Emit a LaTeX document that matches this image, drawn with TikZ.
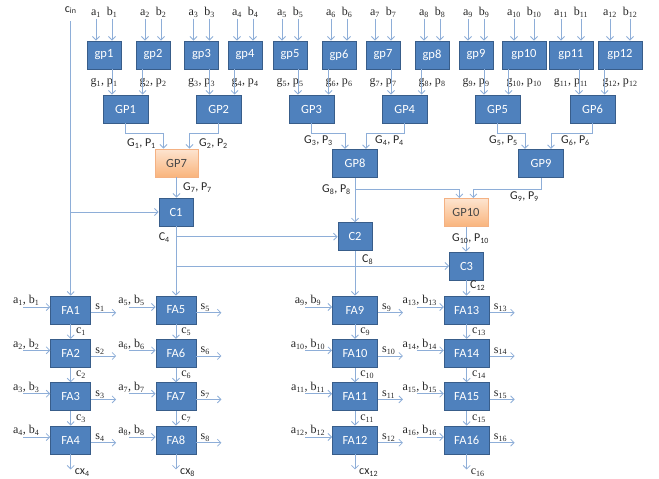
\documentclass[tikz,border=0pt]{standalone}
\usepackage{fontspec}
\setmainfont{Liberation Serif}
\setsansfont{Carlito}
\usetikzlibrary{arrows.meta}

\definecolor{blkfill}{HTML}{4F81BD}
\definecolor{blkline}{HTML}{385D8A}
\definecolor{orgtop}{HTML}{FDE4D0}
\definecolor{orgbot}{HTML}{F9B47C}
\definecolor{orgline}{HTML}{F4B183}
\definecolor{wirecol}{HTML}{8EAED8}
\definecolor{lblcol}{HTML}{262626}
\newcommand{\sbs}[1]{\textsubscript{#1}}

\tikzset{
	blk/.style={draw=blkline, fill=blkfill, text=white, font=\sffamily\fontsize{12.5}{14}\selectfont, minimum height=28pt, inner sep=0pt, line width=0.9pt},
	orgblk/.style={blk, top color=orgtop, bottom color=orgbot, draw=orgline, text=lblcol!85},
	wire/.style={draw=wirecol, line width=0.8pt},
	arr/.style={wire, -{Straight Barb[length=3.5pt,width=7pt]}},
	lbl/.style={text=lblcol, font=\fontsize{12}{14}\selectfont, inner sep=1pt},
	slbl/.style={lbl, font=\sffamily\fontsize{12}{14}\selectfont},
}

\begin{document}
\begin{tikzpicture}[x=1pt,y=-1pt]
	\useasboundingbox (0,0) rectangle (659,479);
	% first level: bitwise generate/propagate
	\foreach \i/\x/\w/\d in {1/104/34pt/8pt,2/153/34pt/8pt,3/201.5/34pt/8pt,4/245/34pt/8pt,5/290/34pt/8pt,6/339/34pt/8pt,7/383/34pt/8pt,8/432/34pt/8pt,9/476/34pt/8pt,10/524/44pt/10pt,11/571/44pt/10pt,12/620/44pt/10pt}
	{
		\node[blk, minimum width=\w] (gp\i) at (\x,55) {gp\i};
		\draw[arr] ([xshift=-\d,yshift=22pt]gp\i.north) coordinate (ta\i) -- ([xshift=-\d]gp\i.north);
		\draw[arr] ([xshift=\d,yshift=22pt]gp\i.north) coordinate (tb\i) -- ([xshift=\d]gp\i.north);
		\node[lbl, above] (la\i) at (ta\i) {a\sbs{\i}};
		\node[lbl, above] (lb\i) at (tb\i) {b\sbs{\i}};
		\node[lbl] (lg\i) at ([yshift=-13pt]gp\i.south) {g\sbs{\i}, p\sbs{\i}};
	}
	% second level
	\node[blk, minimum width=45pt] (GP1) at (125.5,109) {GP1};
	\node[blk, minimum width=45pt] (GP2) at (218.7,109) {GP2};
	\node[blk, minimum width=45pt] (GP3) at (311.5,109) {GP3};
	\node[blk, minimum width=45pt] (GP4) at (404.7,109) {GP4};
	\node[blk, minimum width=45pt] (GP5) at (497.5,109) {GP5};
	\node[blk, minimum width=45pt] (GP6) at (592.5,109) {GP6};
	\node[orgblk, minimum width=43pt] (GP7) at (176.5,163) {GP7};
	\node[blk, minimum width=45pt] (GP8) at (355,163.3) {GP8};
	\node[blk, minimum width=45pt] (GP9) at (541,163.3) {GP9};
	\node[orgblk, minimum width=44pt] (GP10) at (466,212.5) {GP10};
	% carry blocks
	\node[blk, minimum width=34pt] (C1) at (176,212) {C1};
	\node[blk, minimum width=34pt] (C2) at (355,236.7) {C2};
	\node[blk, minimum width=34pt] (C3) at (466.5,266) {C3};
	% gp -> GP
	\foreach \i/\j in {1/1,3/2,5/3,7/4,9/5,11/6}
	{
		\path ([xshift=8pt]gp\i.south) coordinate (d\i);
		\draw[arr] (d\i) -- (d\i |- GP\j.north);
	}
	\foreach \i/\j in {2/1,4/2,6/3,8/4,10/5,12/6}
	{
		\path ([xshift=7pt]gp\i.south west) coordinate (d\i);
		\draw[arr] (d\i) -- (d\i |- GP\j.north);
	}
	% GP -> GP
	\draw[arr] (GP1.south) -- ++(0,10) -| ([xshift=-13pt]GP7.north);
	\draw[arr] (GP2.south) -- ++(0,10) -| ([xshift=13pt]GP7.north);
	\draw[arr] (GP3.south) -- ++(0,9.5) -| ([xshift=-10pt]GP8.north);
	\draw[arr] (GP4.south) -- ++(0,9.5) -| ([xshift=11pt]GP8.north);
	\draw[arr] (GP5.south) -- ++(0,9.5) -| ([xshift=-16pt]GP9.north);
	\draw[arr] (GP6.south) -- ++(0,9.5) -| ([xshift=10pt]GP9.north);
	\draw[arr] (GP8.south) -- ++(0,11.2) -| ([xshift=-6.7pt]GP10.north);
	\draw[arr] (GP9.south) -- ++(0,11.2) -| ([xshift=7.3pt]GP10.north);
	\draw[arr] (GP7.south) -- (GP7.south |- C1.north);
	\draw[arr] (GP8.south) -- (C2.north);
	\draw[arr] (GP10.south) -- (GP10.south |- C3.north);
	\node[slbl, anchor=east] (lG1) at (157,144) {G\sbs{1}, P\sbs{1}};
	\node[slbl, anchor=west] (lG2) at (198,144) {G\sbs{2}, P\sbs{2}};
	\node[slbl, anchor=east] (lG3) at (334,141) {G\sbs{3}, P\sbs{3}};
	\node[slbl, anchor=west] (lG4) at (374,141) {G\sbs{4}, P\sbs{4}};
	\node[slbl, anchor=east] (lG5) at (519,141) {G\sbs{5}, P\sbs{5}};
	\node[slbl, anchor=west] (lG6) at (560,141) {G\sbs{6}, P\sbs{6}};
	\node[slbl, anchor=west] (lG7) at (182,188) {G\sbs{7}, P\sbs{7}};
	\node[slbl, anchor=east] (lG8) at (352,190) {G\sbs{8}, P\sbs{8}};
	\node[slbl, anchor=north east] (lG9) at (540,190.5) {G\sbs{9}, P\sbs{9}};
	\node[slbl, anchor=west] (lG10) at (451,239) {G\sbs{10}, P\sbs{10}};
	% carry in
	\node[slbl] (cin) at (70.7,10) {c\sbs{in}};
	\coordinate (cintop) at (70.7,21);
	% full adders
	\foreach \c/\x/\w in {0/70.7/40pt,1/176/40pt,2/355/45pt,3/466.7/45pt}
	{
		\foreach \r/\y in {1/310,2/353.3,3/396.7,4/440}
		{
			\pgfmathtruncatemacro\n{4*\c+\r}
			\node[blk, minimum width=\w] (FA\n) at (\x,\y) {FA\n};
			\draw[arr] ([xshift=-27pt,yshift=3pt]FA\n.west) coordinate (in\n) -- ([yshift=3pt]FA\n.west);
			\node[lbl, above] (lab\n) at ([xshift=3pt]in\n) {a\sbs{\n}, b\sbs{\n}};
			\draw[arr] ([yshift=-2.7pt]FA\n.east) coordinate (out\n) -- ++(25,0);
			\node[lbl, anchor=south west] (ls\n) at ([xshift=3pt]out\n) {s\sbs{\n}};
		}
	}
	\foreach \a/\b in {1/2,2/3,3/4,5/6,6/7,7/8,9/10,10/11,11/12,13/14,14/15,15/16}
		\draw[arr] (FA\a.south) -- (FA\b.north) node[lbl, midway, right, xshift=4pt] (lc\a) {c\sbs{\a}};
	% carry wiring
	\draw[arr] (cintop) -- (cintop |- FA1.north);
	\draw[arr] (cintop |- C1.west) -- (C1.west);
	\draw[arr] (C1.south) -- (C1.south |- FA5.north);
	\draw[arr] (C1.south |- C2.west) -- (C2.west);
	\draw[arr] (C1.south |- C3.west) -- (C3.west);
	\draw[arr] (C2.south) -- (C2.south |- FA9.north);
	\draw[arr] (C3.south) -- (C3.south |- FA13.north);
	\node[slbl, anchor=east] (lC4) at (171,238) {C\sbs{4}};
	\node[slbl, anchor=west] (lC8) at (361,260) {C\sbs{8}};
	\node[slbl, anchor=west] (lC12) at (469,286) {C\sbs{12}};
	% final carries
	\draw[arr] (FA4.south) -- ++(0,15) coordinate (o4);
	\draw[arr] (FA8.south) -- ++(0,15) coordinate (o8);
	\draw[arr] (FA12.south) -- ++(0,15) coordinate (o12);
	\draw[arr] (FA16.south) -- ++(0,15) coordinate (o16);
	\node[slbl, anchor=west] (lo4) at ([xshift=3pt,yshift=-3.5pt]o4) {cx\sbs{4}};
	\node[slbl, anchor=west] (lo8) at ([xshift=3pt,yshift=-3.5pt]o8) {cx\sbs{8}};
	\node[slbl, anchor=west] (lo12) at ([xshift=3pt,yshift=-3.5pt]o12) {cx\sbs{12}};
	\node[lbl, anchor=west] (lo16) at ([xshift=3pt,yshift=-3.5pt]o16) {c\sbs{16}};
\end{tikzpicture}
\end{document}
